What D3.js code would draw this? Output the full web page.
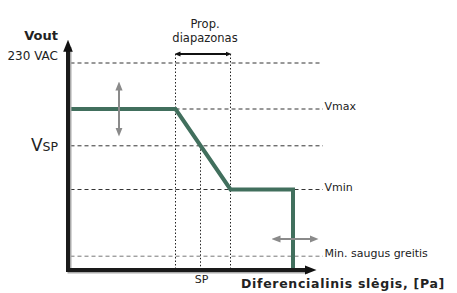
<!DOCTYPE html>
<html>
<head>
<meta charset="utf-8">
<script src="https://cdn.jsdelivr.net/npm/d3@7"></script>
<style>
  body { margin: 0; background: #fff; }
  text { font-family: "DejaVu Sans", Verdana, sans-serif; fill: #222; }
</style>
</head>
<body>
<script>
// relative units, 0..100 on both axes
const levels = [
  { name: 'vac', value: 90, label: '' },
  { name: 'vmax', value: 70, label: 'Vmax' },
  { name: 'vsp', value: 54, label: '' },
  { name: 'vmin', value: 35, label: 'Vmin' },
  { name: 'minFan', value: 6, label: 'Min. saugus greitis' }
];
const propBand = [43, 65];   // proportional band start / end
const spX = 53;              // setpoint
const curveX = [0, 43, 65, 90, 90];
const curveY = [70, 70, 35, 35, 0];

const width = 457, height = 293;

const svg = d3.select('body').append('svg')
  .attr('width', width)
  .attr('height', height);

const x = d3.scaleLinear().domain([0, 100]).range([68, 318]);
const y = d3.scaleLinear().domain([0, 100]).range([270, 40]);

const defs = svg.append('defs');
function marker(id, color, size) {
  defs.append('marker')
    .attr('id', id)
    .attr('viewBox', '0 0 10 10')
    .attr('refX', 5).attr('refY', 5)
    .attr('markerWidth', size).attr('markerHeight', size)
    .attr('markerUnits', 'userSpaceOnUse')
    .attr('orient', 'auto-start-reverse')
    .append('path')
    .attr('d', 'M0,1 L10,5 L0,9 Z')
    .attr('fill', color);
}
marker('axisArrow', '#111', 12);
marker('greyArrow', '#8a8a8a', 9);
marker('bracketArrow', '#111', 6);

// horizontal dashed reference lines
svg.append('g').selectAll('line')
  .data(levels)
  .join('line')
  .attr('x1', x(1)).attr('x2', d => d.name === 'vac' ? x(101) : x(102))
  .attr('y1', d => y(d.value)).attr('y2', d => y(d.value))
  .attr('stroke', d => d.name === 'minFan' ? '#777' : '#333')
  .attr('stroke-width', 1)
  .attr('stroke-dasharray', '4,3');

svg.append('g').selectAll('text')
  .data(levels.filter(d => d.label))
  .join('text')
  .attr('x', x(102.6))
  .attr('y', d => y(d.value) + 1)
  .attr('font-size', 11)
  .text(d => d.label);

// dotted verticals for the proportional band and setpoint
svg.append('g').selectAll('line')
  .data(propBand)
  .join('line')
  .attr('x1', d => x(d)).attr('x2', d => x(d))
  .attr('y1', 54).attr('y2', y(0))
  .attr('stroke', '#222')
  .attr('stroke-dasharray', '1.5,2');

svg.append('line')
  .attr('x1', x(spX)).attr('x2', x(spX))
  .attr('y1', y(54)).attr('y2', y(0))
  .attr('stroke', '#222')
  .attr('stroke-dasharray', '1.5,2');

// bracket over the band
svg.append('line')
  .attr('x1', x(propBand[0]) + 2).attr('x2', x(propBand[1]) - 2)
  .attr('y1', 54).attr('y2', 54)
  .attr('stroke', '#111').attr('stroke-width', 2.2)
  .attr('marker-start', 'url(#bracketArrow)')
  .attr('marker-end', 'url(#bracketArrow)');

svg.append('text')
  .attr('x', 205).attr('y', 28)
  .attr('text-anchor', 'middle')
  .attr('font-size', 11.5)
  .selectAll('tspan')
  .data(['Prop.', 'diapazonas'])
  .join('tspan')
  .attr('x', 205)
  .attr('dy', (d, i) => i ? 14 : 0)
  .text(d => d);

// the control curve
const line = d3.line()
  .x(d => x(d[0]))
  .y(d => y(d[1]));

svg.append('path')
  .datum(d3.zip(curveX, curveY))
  .attr('d', line)
  .attr('fill', 'none')
  .attr('stroke', '#416f5d')
  .attr('stroke-width', 4)
  .attr('stroke-linejoin', 'miter');

// adjustment arrows
svg.append('line')
  .attr('x1', x(20.4)).attr('x2', x(20.4))
  .attr('y1', y(70) - 23).attr('y2', y(70) + 23)
  .attr('stroke', '#8a8a8a').attr('stroke-width', 2)
  .attr('marker-start', 'url(#greyArrow)')
  .attr('marker-end', 'url(#greyArrow)');

svg.append('line')
  .attr('x1', x(90) - 17).attr('x2', x(90) + 21)
  .attr('y1', 239).attr('y2', 239)
  .attr('stroke', '#8a8a8a').attr('stroke-width', 2)
  .attr('marker-start', 'url(#greyArrow)')
  .attr('marker-end', 'url(#greyArrow)');

// axes with a faint shadow
const axisG = svg.append('g');
axisG.append('path')
  .attr('d', `M${x(0) + 1.5},${y(97)} V${y(0) + 1.5} H${x(96)}`)
  .attr('fill', 'none').attr('stroke', '#aaa').attr('stroke-width', 4);
axisG.append('path')
  .attr('d', `M${x(0)},${y(0)} H${x(97)}`)
  .attr('fill', 'none').attr('stroke', '#1a1a1a').attr('stroke-width', 4)
  .attr('marker-end', 'url(#axisArrow)');
axisG.append('path')
  .attr('d', `M${x(0)},${y(0) + 2} V${y(97.5)}`)
  .attr('fill', 'none').attr('stroke', '#1a1a1a').attr('stroke-width', 4)
  .attr('marker-end', 'url(#axisArrow)');

// axis labels
svg.append('text')
  .attr('x', 58).attr('y', 40)
  .attr('text-anchor', 'end')
  .attr('font-size', 13).attr('font-weight', 'bold')
  .text('Vout');

svg.append('text')
  .attr('x', 58).attr('y', 60)
  .attr('text-anchor', 'end')
  .attr('font-size', 12)
  .text('230 VAC');

const vsp = svg.append('text')
  .attr('x', 58).attr('y', y(54) + 5)
  .attr('text-anchor', 'end');
vsp.append('tspan').attr('font-size', 17).text('V');
vsp.append('tspan').attr('font-size', 12.5).text('SP');

svg.append('text')
  .attr('x', x(spX) + 1).attr('y', 283)
  .attr('text-anchor', 'middle')
  .attr('font-size', 11)
  .text('SP');

svg.append('text')
  .attr('x', 445).attr('y', 288)
  .attr('text-anchor', 'end')
  .attr('font-size', 12.5).attr('font-weight', 'bold')
  .attr('letter-spacing', 0.7)
  .text('Diferencialinis slėgis, [Pa]');
</script>
</body>
</html>
